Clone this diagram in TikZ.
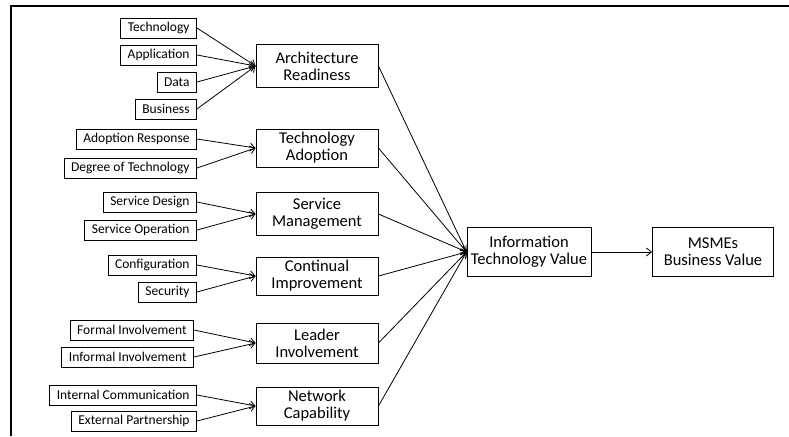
\documentclass[tikz,border=0pt]{standalone}
\usepackage{fontspec}
\setmainfont{Carlito}
\usetikzlibrary{arrows.meta}

\begin{document}
\begin{tikzpicture}[x=1pt,y=-1pt,
  indicator/.style={draw,line width=0.9pt,font=\fontsize{13.5}{14}\selectfont,minimum height=20pt,inner xsep=7pt,inner ysep=2pt,anchor=east},
  construct/.style={draw,line width=0.9pt,font=\fontsize{16.5}{17}\selectfont,minimum width=122pt,minimum height=38pt,inner ysep=2pt,align=center},
  outcome/.style={construct,minimum width=124pt,minimum height=49pt},
  link/.style={-{Straight Barb[length=5pt,width=8pt]},line width=0.8pt}]

\useasboundingbox (0,0) rectangle (789,436);
\draw[line width=1.6pt] (11,436) -- (11,6) -- (789,6);

% constructs
\node[construct,minimum height=43pt] (arch) at (317,66) {Architecture\\Readiness};
\node[construct] (adopt) at (317,148) {Technology\\Adoption};
\node[construct,minimum height=43pt] (serv) at (317,214) {Service\\Management};
\node[construct] (cont) at (317,276) {Continual\\Improvement};
\node[construct,minimum height=40pt] (lead) at (317,343) {Leader\\Involvement};
\node[construct] (net) at (317,406) {Network\\Capability};

% indicators
\node[indicator] (tech) at (197,28) {Technology};
\node[indicator] (appl) at (197,55) {Application};
\node[indicator] (data) at (197,82) {Data};
\node[indicator] (busi) at (197,109) {Business};
\node[indicator] (resp) at (197,139) {Adoption Response};
\node[indicator] (degr) at (197,168) {Degree of Technology};
\node[indicator] (sdes) at (197,202) {Service Design};
\node[indicator] (sope) at (197,230) {Service Operation};
\node[indicator] (conf) at (197,265) {Configuration};
\node[indicator] (secu) at (197,292) {Security};
\node[indicator] (form) at (194,330) {Formal Involvement};
\node[indicator] (info) at (194,357) {Informal Involvement};
\node[indicator] (intc) at (197,395) {Internal Communication};
\node[indicator] (extp) at (197,421) {External Partnership};

% outcomes
\node[outcome] (itv) at (529,252) {Information\\Technology Value};
\node[outcome,minimum width=121pt] (msme) at (713,252) {MSMEs\\Business Value};

\draw[link] (tech.east) -- (arch.west);
\draw[link] (appl.east) -- (arch.west);
\draw[link] (data.east) -- (arch.west);
\draw[link] (busi.east) -- (arch.west);
\draw[link] (resp.east) -- (adopt.west);
\draw[link] (degr.east) -- (adopt.west);
\draw[link] (sdes.east) -- (serv.west);
\draw[link] (sope.east) -- (serv.west);
\draw[link] (conf.east) -- (cont.west);
\draw[link] (secu.east) -- (cont.west);
\draw[link] (form.east) -- (lead.west);
\draw[link] (info.east) -- (lead.west);
\draw[link] (intc.east) -- (net.west);
\draw[link] (extp.east) -- (net.west);

\draw[link] (arch.east) -- (itv.west);
\draw[link] (adopt.east) -- (itv.west);
\draw[link] (serv.east) -- (itv.west);
\draw[link] (cont.east) -- (itv.west);
\draw[link] (lead.east) -- (itv.west);
\draw[link] (net.east) -- (itv.west);
\draw[link] (itv.east) -- (msme.west);
\end{tikzpicture}
\end{document}
